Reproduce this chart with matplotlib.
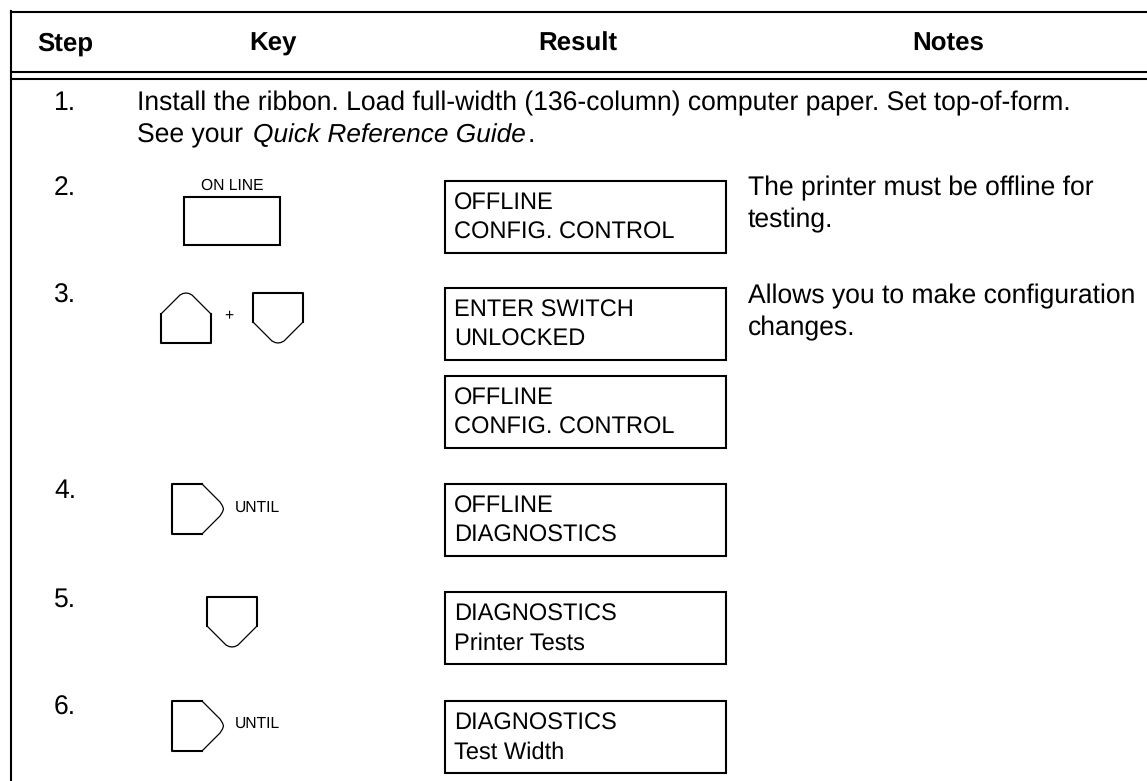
#!/usr/bin/env python
"""Printer test procedure table, drawn in pixel coordinates"""

import matplotlib
matplotlib.use('Agg')
import matplotlib.pyplot as plt
from matplotlib.patches import Rectangle

W, H = 1147, 781

headers = ['Step', 'Key', 'Result', 'Notes']
header_x = [65, 273, 578, 948]
steps = ['1.', '2.', '3.', '4.', '5.', '6.']
step_y = [110, 195, 303, 498, 607, 715]
results = [('OFFLINE', 'CONFIG. CONTROL'), ('ENTER SWITCH', 'UNLOCKED'),
           ('OFFLINE', 'CONFIG. CONTROL'), ('OFFLINE', 'DIAGNOSTICS'),
           ('DIAGNOSTICS', 'Printer Tests'), ('DIAGNOSTICS', 'Test Width')]
result_top = [181, 288, 376, 484, 592, 701]
notes = [(195, 'The printer must be offline for', 'testing.'),
         (303, 'Allows you to make configuration', 'changes.')]

FS = 19.1
RESULT_FS = 17.05
SMALL = 11.25
LW = 1.5


def draw_key(ax, x, y, direction):
    # 50 px key: heavy square part, thin slanted edges with a rounded tip
    if direction == 'up':
        s = 21
        thin = [(0, s), (19, 2), (22, 0.5), (25, 0), (28, 0.5), (31, 2), (50, s)]
        thick = [(0, s), (0, 50), (50, 50), (50, s)]
    elif direction == 'down':
        s = 29
        thin = [(0, s), (19, 48), (22, 49.5), (25, 50), (28, 49.5), (31, 48), (50, s)]
        thick = [(0, s), (0, 0), (50, 0), (50, s)]
    else:
        thin = [(30, 0), (48, 18), (50.5, 22), (51.5, 25), (50.5, 28), (48, 32), (30, 50)]
        thick = [(30, 0), (0, 0), (0, 50), (30, 50)]
    ax.plot([x + p[0] for p in thin], [y + p[1] for p in thin], color='black', lw=0.9)
    ax.plot([x + p[0] for p in thick], [y + p[1] for p in thick], color='black', lw=LW)


plt.rcParams['font.family'] = ['Liberation Sans']
plt.rcParams['text.hinting'] = 'none'
fig = plt.figure(figsize=(W / 100, H / 100), dpi=100)
ax = fig.add_axes([0, 0, 1, 1])
ax.set_xlim(0, W)
ax.set_ylim(H, 0)
ax.axis('off')

# table rules
ax.plot([11, W], [12, 12], color='black', lw=LW)
ax.plot([11, W], [72, 72], color='black', lw=LW)
ax.plot([11, W], [79, 79], color='black', lw=LW)
ax.plot([11, 11], [11, H], color='black', lw=LW)

for x, label in zip(header_x, headers):
    ax.text(x, 51, label, ha='center', va='baseline', fontsize=18.6, fontweight='bold')

for y, label in zip(step_y, steps):
    ax.text(54, y, label, ha='left', va='baseline', fontsize=FS)

ax.text(137, 110, 'Install the ribbon. Load full-width (136-column) computer paper. Set top-of-form.',
        ha='left', va='baseline', fontsize=FS)
ax.text(137, 142, 'See your', ha='left', va='baseline', fontsize=FS)
ax.text(253, 142, 'Quick Reference Guide', ha='left', va='baseline', fontsize=18.9, style='italic')
ax.text(528, 142, '.', ha='left', va='baseline', fontsize=FS)

# key symbols
ax.text(232, 190, 'ON LINE', ha='center', va='baseline', fontsize=SMALL)
ax.add_patch(Rectangle((184, 197), 96, 48, fill=False, ec='black', lw=LW))
draw_key(ax, 161, 293, 'up')
ax.text(229, 319, '+', ha='center', va='baseline', fontsize=SMALL)
draw_key(ax, 253, 293, 'down')
draw_key(ax, 172, 484, 'right')
ax.text(235, 512, 'UNTIL', ha='left', va='baseline', fontsize=SMALL)
draw_key(ax, 207, 597, 'down')
draw_key(ax, 172, 701, 'right')
ax.text(235, 728, 'UNTIL', ha='left', va='baseline', fontsize=SMALL)

# result display boxes
for top, (line1, line2) in zip(result_top, results):
    ax.add_patch(Rectangle((445, top), 281, 72, fill=False, ec='black', lw=LW))
    ax.text(454, top + 29, line1, ha='left', va='baseline', fontsize=RESULT_FS)
    ax.text(454, top + 58, line2, ha='left', va='baseline', fontsize=RESULT_FS)

for y, line1, line2 in notes:
    ax.text(748, y, line1, ha='left', va='baseline', fontsize=FS)
    ax.text(748, y + 32, line2, ha='left', va='baseline', fontsize=FS)

fig.savefig('out.png', dpi=100)
